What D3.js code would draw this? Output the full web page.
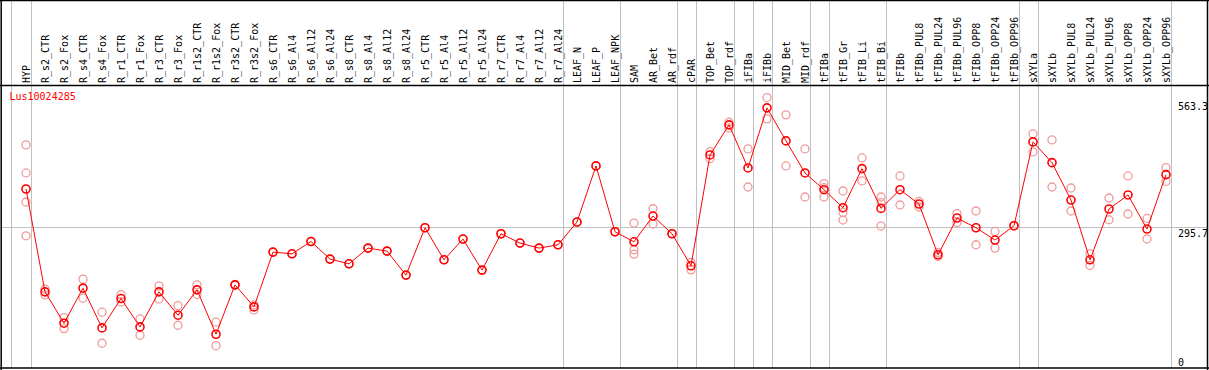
<!DOCTYPE html>
<html>
<head>
<meta charset="utf-8">
<script src="https://cdn.jsdelivr.net/npm/d3@7"></script>
<style>
    body { margin: 0; background: #fff; }
    svg text { font-family: "DejaVu Sans Mono", monospace; font-size: 10px; }
</style>
</head>
<body>
<svg id="chart"></svg>
<script>
const geneName = "Lus10024285";

const samples = ["HYP", "R_s2_CTR", "R_s2_Fox", "R_s4_CTR", "R_s4_Fox", "R_r1_CTR", "R_r1_Fox",
    "R_r3_CTR", "R_r3_Fox", "R_r1s2_CTR", "R_r1s2_Fox", "R_r3s2_CTR", "R_r3s2_Fox",
    "R_s6_CTR", "R_s6_Al4", "R_s6_Al12", "R_s6_Al24", "R_s8_CTR", "R_s8_Al4", "R_s8_Al12", "R_s8_Al24",
    "R_r5_CTR", "R_r5_Al4", "R_r5_Al12", "R_r5_Al24", "R_r7_CTR", "R_r7_Al4", "R_r7_Al12", "R_r7_Al24",
    "LEAF_N", "LEAF_P", "LEAF_NPK", "SAM", "AR_Bet", "AR_rdf", "cPAR", "TOP_Bet", "TOP_rdf",
    "iFIBa", "iFIBb", "MID_Bet", "MID_rdf", "tFIBa", "tFIB_Gr", "tFIB_Li", "tFIB_Bi",
    "tFIBb", "tFIBb_PUL8", "tFIBb_PUL24", "tFIBb_PUL96", "tFIBb_OPP8", "tFIBb_OPP24", "tFIBb_OPP96",
    "sXYLa", "sXYLb", "sXYLb_PUL8", "sXYLb_PUL24", "sXYLb_PUL96", "sXYLb_OPP8", "sXYLb_OPP24", "sXYLb_OPP96"];

const means = [376.4, 160.1, 94.2, 167.9, 84.3, 146.0, 86.4,
    160.1, 111.0, 164.3, 71.0, 174.8, 128.5,
    243.7, 240.1, 266.0, 229.0, 219.1, 252.1, 245.8, 195.3,
    294.9, 227.5, 271.1, 205.8, 282.3, 262.7, 252.1, 259.1,
    306.9, 424.9, 286.5, 265.4, 319.5, 282.3, 214.9, 448.0, 511.2,
    420.6, 547.0, 477.5, 410.1, 374.9, 337.0, 419.2, 335.6,
    374.9, 344.8, 238.0, 315.3, 294.9, 269.0, 299.1,
    475.4, 431.8, 353.2, 227.5, 334.3, 363.8, 292.2, 406.5];

const replicates = [
    [469.1, 410.1, 349.0, 278.0], [165.8, 153.8], [106.0, 82.8], [186.8, 146.8], [117.3, 52.0],
    [154.4, 139.0], [103.2, 68.9], [172.7, 145.3], [131.2, 89.9], [174.8, 154.4], [96.3, 47.0],
    [176.0, 174.0], [132.7, 122.2],
    [243.7], [240.1], [266.0], [229.0], [219.1], [252.1], [245.8], [195.3],
    [294.9], [227.5], [271.1], [205.8], [282.3], [262.7], [252.1], [259.1],
    [306.9], [424.9], [286.5], [304.8, 248.6, 239.5], [334.9, 302.7], [282.3], [221.8, 206.4],
    [455.0, 440.2], [516.7, 504.9],
    [460.7, 380.6], [568.7, 523.9], [532.3, 424.9], [460.7, 359.6],
    [387.6, 379.1, 359.6], [372.2, 327.1, 311.1], [441.7, 393.3], [359.6, 347.6, 298.5],
    [403.8, 342.7], [350.3, 338.5], [242.9, 234.4], [324.4, 306.1], [330.1, 259.1], [287.1, 252.1], [299.1],
    [492.3, 454.4], [479.6, 380.6], [378.5, 330.1], [240.1, 215.5], [357.5, 311.7],
    [403.8, 323.8], [314.5, 271.1], [421.3, 392.4]];

// last sample of each group, a grey separator is drawn after it
const groupEnds = ["HYP", "R_r7_Al24", "LEAF_NPK", "AR_rdf", "cPAR", "TOP_rdf", "iFIBa", "iFIBb",
    "MID_rdf", "tFIBa", "tFIB_Bi", "tFIBb_OPP96", "sXYLa", "sXYLb_OPP96"];

const yTicks = [0, 295.7, 563.3];
const yMax = 594;

const width = 1209, height = 370;
const headerBottom = 85.5, plotBottom = 368, frameRight = 1207.5;

let svg = d3.select("#chart")
    .attr("width", width)
    .attr("height", height);

let x = d3.scalePoint()
    .domain(samples)
    .range([26, 1166]);

let y = d3.scaleLinear()
    .domain([0, yMax])
    .range([plotBottom, headerBottom]);

// grey grid
let grid = svg.append("g")
    .attr("stroke", "#c0c0c0")
    .attr("stroke-width", 1);

grid.append("line")
    .attr("x1", 1).attr("x2", frameRight)
    .attr("y1", Math.round(y(yTicks[1])) + 0.5)
    .attr("y2", Math.round(y(yTicks[1])) + 0.5);

const sepX = [x(samples[0]) - 15.5].concat(groupEnds.map(d => x(d) + 4.5));
grid.selectAll("line.sep")
    .data(sepX)
    .enter().append("line")
    .attr("class", "sep")
    .attr("x1", d => Math.round(d) + 0.5)
    .attr("x2", d => Math.round(d) + 0.5)
    .attr("y1", 0)
    .attr("y2", plotBottom);

// frame
let frame = svg.append("g")
    .attr("stroke", "#000")
    .attr("stroke-width", 1.5)
    .attr("fill", "none");
frame.append("line").attr("x1", 0).attr("x2", width).attr("y1", 0.5).attr("y2", 0.5);
frame.append("line").attr("x1", 0).attr("x2", width).attr("y1", headerBottom).attr("y2", headerBottom);
frame.append("line").attr("x1", 0).attr("x2", width).attr("y1", plotBottom).attr("y2", plotBottom);
frame.append("line").attr("x1", 1.2).attr("x2", 1.2).attr("y1", 0).attr("y2", height);
frame.append("line").attr("x1", frameRight).attr("x2", frameRight).attr("y1", 0).attr("y2", height);

// column labels
svg.append("g")
    .selectAll("text")
    .data(samples)
    .enter().append("text")
    .attr("transform", d => "translate(" + (x(d) + 3.5) + "," + (headerBottom - 2.5) + ") rotate(-90)")
    .attr("fill", "#000")
    .text(d => d);

// gene name
svg.append("text")
    .attr("x", 9.5)
    .attr("y", 100)
    .attr("fill", "#ff0000")
    .text(geneName);

// y labels
svg.append("g")
    .selectAll("text")
    .data(yTicks)
    .enter().append("text")
    .attr("x", 1178)
    .attr("y", d => Math.min(y(d) + 9.5, plotBottom - 2.5))
    .attr("fill", "#000")
    .text(d => d);

// replicates
let repPoints = [];
replicates.forEach((reps, i) => {
    reps.forEach(v => repPoints.push({name: samples[i], value: v}));
});

svg.append("g")
    .attr("fill", "none")
    .attr("stroke", "#f09a9a")
    .attr("stroke-width", 1.3)
    .selectAll("circle")
    .data(repPoints)
    .enter().append("circle")
    .attr("cx", d => x(d.name))
    .attr("cy", d => y(d.value))
    .attr("r", 4);

// mean line
let line = d3.line()
    .x((d, i) => x(samples[i]))
    .y(d => y(d));

svg.append("path")
    .datum(means)
    .attr("fill", "none")
    .attr("stroke", "#ff0000")
    .attr("stroke-width", 1)
    .attr("d", line);

svg.append("g")
    .attr("fill", "none")
    .attr("stroke", "#ff0000")
    .attr("stroke-width", 1.6)
    .selectAll("circle")
    .data(means)
    .enter().append("circle")
    .attr("cx", (d, i) => x(samples[i]))
    .attr("cy", d => y(d))
    .attr("r", 4);
</script>
</body>
</html>
